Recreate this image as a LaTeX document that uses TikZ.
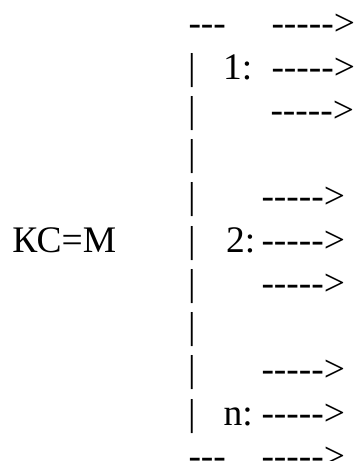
\documentclass[tikz,border=0pt]{standalone}
\usepackage{fontspec}
\setmainfont{Liberation Serif}
\begin{document}
\begin{tikzpicture}[x=1pt,y=-1pt,
  txt/.style={anchor=base west,inner sep=0pt,outer sep=0pt,font=\fontsize{37.5}{41}\selectfont}]
\useasboundingbox (0,0) rectangle (356,461);
% line 1
\node[txt] (top) at (188.5,35.75) {-{}-{}-};
\node[txt] (a1) at (271.5,35.75) {-{}-{}-{}-{}->};
% line 2
\node[txt] (b2) at (188,79) {|};
\node[txt] (l1) at (223,79) {1:};
\node[txt] (a2) at (271.5,79) {-{}-{}-{}-{}->};
% line 3
\node[txt] (b3) at (188,122.25) {|};
\node[txt] (a3) at (270.5,122.25) {-{}-{}-{}-{}->};
% line 4
\node[txt] (b4) at (188,165.5) {|};
% line 5
\node[txt] (b5) at (188,208.75) {|};
\node[txt] (a5) at (261.5,208.75) {-{}-{}-{}-{}->};
% line 6
\node[txt] (ks) at (12.5,252) {КС=М};
\node[txt] (b6) at (188,252) {|};
\node[txt] (l2) at (226,252) {2:};
\node[txt] (a6) at (261.5,252) {-{}-{}-{}-{}->};
% line 7
\node[txt] (b7) at (188,295.25) {|};
\node[txt] (a7) at (261.5,295.25) {-{}-{}-{}-{}->};
% line 8
\node[txt] (b8) at (188,338.5) {|};
% line 9
\node[txt] (b9) at (188,381.75) {|};
\node[txt] (a9) at (261.5,381.75) {-{}-{}-{}-{}->};
% line 10
\node[txt] (b10) at (188,425) {|};
\node[txt] (ln) at (223.5,425) {n:};
\node[txt] (a10) at (261.5,425) {-{}-{}-{}-{}->};
% line 11
\node[txt] (bot) at (188.5,468.25) {-{}-{}-};
\node[txt] (a11) at (261.5,468.25) {-{}-{}-{}-{}->};
\end{tikzpicture}
\end{document}
